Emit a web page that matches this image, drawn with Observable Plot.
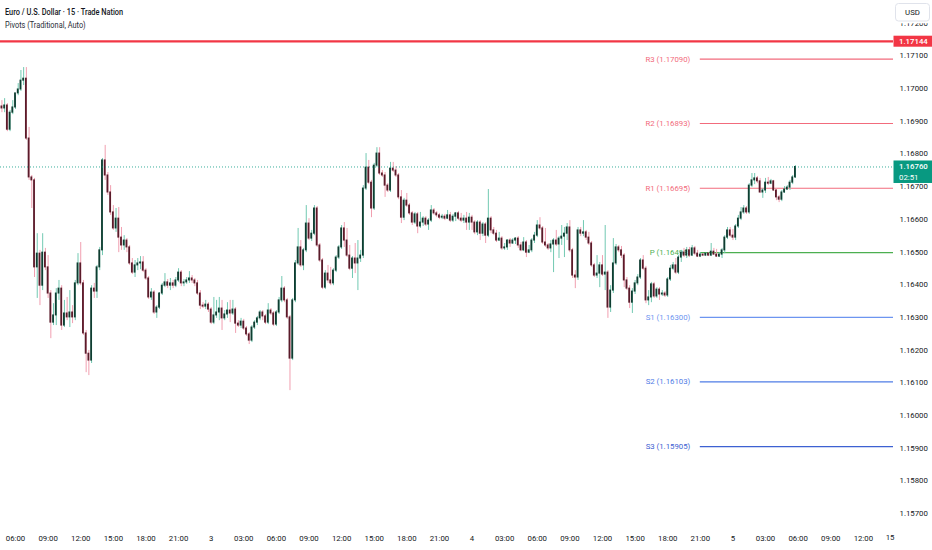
<!DOCTYPE html>
<html><head><meta charset="utf-8">
<script src="https://cdn.jsdelivr.net/npm/d3@7"></script>
<script src="https://cdn.jsdelivr.net/npm/@observablehq/plot@0.6"></script>
<style>
html,body{margin:0;padding:0;background:#fff;}
#wrap{position:relative;width:932px;height:550px;overflow:hidden;font-family:Roboto,"Noto Sans",sans-serif;}
#chart svg{display:block;}
#hdr{position:absolute;left:5px;top:6px;font-size:8.4px;color:#131722;transform:scaleX(0.88);transform-origin:0 0;white-space:nowrap;}
#hdr .t1{font-weight:500;line-height:12.5px;}
#hdr .t2{font-weight:400;line-height:12.5px;color:#2a2e39;}
</style></head>
<body>
<div id="wrap"><div id="chart"></div>
<div id="hdr"><div class="t1">Euro / U.S. Dollar · 15 · Trade Nation</div><div class="t2">Pivots (Traditional, Auto)</div></div>
</div>
<script>
// ---- data: 15-minute EUR/USD candles, first bar 2 Dec 04:45 ----
const firstBar = "2025-12-02T04:45:00Z";
const barMinutes = 15;

const open = [
1.16945,1.16939,1.16948,1.16874,1.16926,1.16942,1.16985,1.16997,1.17024,1.17030,
1.16847,1.16728,1.16719,1.16453,1.16495,1.16397,1.16498,1.16453,1.16373,1.16284,
1.16306,1.16373,1.16388,1.16275,1.16312,1.16300,1.16315,1.16300,1.16404,1.16465,
1.16404,1.16251,1.16189,1.16168,1.16388,1.16379,1.16453,1.16505,1.16780,1.16734,
1.16682,1.16621,1.16572,1.16602,1.16544,1.16520,1.16535,1.16514,1.16465,1.16437,
1.16459,1.16465,1.16468,1.16443,1.16419,1.16361,1.16376,1.16315,1.16330,1.16373,
1.16397,1.16407,1.16397,1.16404,1.16397,1.16413,1.16437,1.16404,1.16407,1.16413,
1.16419,1.16413,1.16404,1.16373,1.16336,1.16333,1.16339,1.16324,1.16284,1.16306,
1.16315,1.16327,1.16297,1.16309,1.16321,1.16312,1.16324,1.16281,1.16275,1.16287,
1.16266,1.16248,1.16229,1.16269,1.16284,1.16297,1.16315,1.16303,1.16284,1.16321,
1.16312,1.16278,1.16315,1.16352,1.16388,1.16352,1.16300,1.16174,1.16352,1.16465,
1.16514,1.16459,1.16505,1.16587,1.16541,1.16556,1.16633,1.16520,1.16474,1.16391,
1.16434,1.16413,1.16404,1.16443,1.16483,1.16514,1.16572,1.16535,1.16489,1.16449,
1.16480,1.16465,1.16480,1.16489,1.16694,1.16758,1.16712,1.16633,1.16764,1.16801,
1.16740,1.16734,1.16703,1.16688,1.16755,1.16749,1.16734,1.16667,1.16605,1.16657,
1.16642,1.16618,1.16590,1.16615,1.16578,1.16590,1.16602,1.16584,1.16596,1.16627,
1.16618,1.16612,1.16605,1.16608,1.16602,1.16612,1.16596,1.16608,1.16618,1.16602,
1.16596,1.16602,1.16590,1.16605,1.16590,1.16560,1.16590,1.16556,1.16584,1.16550,
1.16602,1.16566,1.16556,1.16535,1.16541,1.16511,1.16514,1.16535,1.16526,1.16535,
1.16541,1.16520,1.16505,1.16529,1.16498,1.16505,1.16535,1.16550,1.16581,1.16572,
1.16529,1.16520,1.16511,1.16523,1.16535,1.16523,1.16541,1.16547,1.16556,1.16575,
1.16505,1.16428,1.16422,1.16566,1.16556,1.16560,1.16544,1.16526,1.16459,1.16428,
1.16434,1.16459,1.16431,1.16437,1.16330,1.16382,1.16465,1.16514,1.16505,1.16489,
1.16413,1.16388,1.16345,1.16379,1.16404,1.16422,1.16474,1.16449,1.16352,1.16361,
1.16401,1.16364,1.16385,1.16370,1.16373,1.16367,1.16416,1.16449,1.16459,1.16437,
1.16483,1.16498,1.16489,1.16505,1.16489,1.16511,1.16495,1.16486,1.16492,1.16489,
1.16495,1.16489,1.16501,1.16492,1.16486,1.16492,1.16505,1.16544,1.16566,1.16550,
1.16544,1.16578,1.16602,1.16621,1.16633,1.16621,1.16703,1.16719,1.16725,1.16716,
1.16682,1.16688,1.16712,1.16709,1.16716,1.16688,1.16667,1.16660,1.16682,1.16691,
1.16697,1.16712,1.16728];

const high = [
1.16963,1.16969,1.16954,1.16933,1.16963,1.16978,1.17015,1.17055,1.17064,1.17064,
1.16881,1.16734,1.16725,1.16556,1.16505,1.16556,1.16511,1.16489,1.16382,1.16342,
1.16388,1.16413,1.16397,1.16352,1.16361,1.16382,1.16336,1.16413,1.16495,1.16529,
1.16413,1.16260,1.16199,1.16397,1.16404,1.16459,1.16514,1.16786,1.16826,1.16743,
1.16703,1.16642,1.16633,1.16636,1.16575,1.16550,1.16541,1.16520,1.16480,1.16474,
1.16480,1.16486,1.16486,1.16449,1.16425,1.16388,1.16382,1.16336,1.16376,1.16404,
1.16434,1.16416,1.16419,1.16413,1.16422,1.16449,1.16443,1.16416,1.16422,1.16440,
1.16428,1.16419,1.16413,1.16382,1.16345,1.16352,1.16345,1.16330,1.16361,1.16352,
1.16361,1.16352,1.16321,1.16345,1.16352,1.16352,1.16330,1.16290,1.16297,1.16294,
1.16272,1.16254,1.16275,1.16290,1.16303,1.16321,1.16321,1.16309,1.16342,1.16327,
1.16318,1.16321,1.16361,1.16425,1.16394,1.16358,1.16306,1.16358,1.16474,1.16572,
1.16535,1.16511,1.16642,1.16602,1.16566,1.16642,1.16639,1.16526,1.16480,1.16443,
1.16459,1.16453,1.16449,1.16489,1.16520,1.16581,1.16590,1.16572,1.16520,1.16486,
1.16526,1.16535,1.16505,1.16703,1.16801,1.16780,1.16719,1.16771,1.16819,1.16819,
1.16749,1.16743,1.16709,1.16774,1.16774,1.16761,1.16740,1.16688,1.16664,1.16679,
1.16648,1.16624,1.16621,1.16621,1.16621,1.16608,1.16608,1.16602,1.16642,1.16633,
1.16624,1.16618,1.16615,1.16615,1.16627,1.16621,1.16615,1.16621,1.16624,1.16618,
1.16612,1.16621,1.16618,1.16612,1.16596,1.16596,1.16596,1.16590,1.16590,1.16691,
1.16608,1.16575,1.16566,1.16560,1.16547,1.16526,1.16538,1.16541,1.16541,1.16544,
1.16547,1.16529,1.16544,1.16535,1.16520,1.16541,1.16560,1.16596,1.16605,1.16578,
1.16572,1.16526,1.16535,1.16541,1.16566,1.16547,1.16581,1.16575,1.16587,1.16596,
1.16511,1.16443,1.16575,1.16575,1.16596,1.16566,1.16560,1.16532,1.16465,1.16489,
1.16468,1.16489,1.16581,1.16443,1.16397,1.16541,1.16523,1.16520,1.16517,1.16495,
1.16422,1.16397,1.16388,1.16413,1.16431,1.16480,1.16489,1.16456,1.16382,1.16407,
1.16407,1.16391,1.16391,1.16382,1.16379,1.16422,1.16459,1.16468,1.16480,1.16489,
1.16505,1.16511,1.16514,1.16514,1.16520,1.16517,1.16505,1.16498,1.16495,1.16498,
1.16498,1.16526,1.16511,1.16508,1.16498,1.16511,1.16550,1.16575,1.16575,1.16569,
1.16584,1.16612,1.16636,1.16642,1.16639,1.16709,1.16740,1.16740,1.16731,1.16725,
1.16694,1.16725,1.16728,1.16722,1.16719,1.16694,1.16673,1.16688,1.16700,1.16703,
1.16719,1.16734,1.16764];

const low = [
1.16926,1.16926,1.16868,1.16868,1.16920,1.16936,1.16978,1.16991,1.17009,1.16841,
1.16719,1.16633,1.16422,1.16358,1.16336,1.16382,1.16443,1.16358,1.16235,1.16275,
1.16275,1.16352,1.16260,1.16269,1.16290,1.16269,1.16281,1.16290,1.16397,1.16397,
1.16245,1.16131,1.16122,1.16159,1.16358,1.16358,1.16443,1.16489,1.16719,1.16673,
1.16612,1.16566,1.16560,1.16498,1.16505,1.16505,1.16498,1.16459,1.16431,1.16422,
1.16443,1.16446,1.16437,1.16413,1.16355,1.16352,1.16309,1.16297,1.16324,1.16367,
1.16391,1.16388,1.16382,1.16388,1.16391,1.16407,1.16394,1.16394,1.16401,1.16404,
1.16404,1.16394,1.16367,1.16324,1.16327,1.16324,1.16315,1.16278,1.16278,1.16297,
1.16290,1.16260,1.16290,1.16297,1.16284,1.16306,1.16251,1.16269,1.16266,1.16260,
1.16242,1.16217,1.16223,1.16263,1.16275,1.16290,1.16290,1.16278,1.16278,1.16306,
1.16272,1.16272,1.16309,1.16345,1.16345,1.16294,1.16076,1.16168,1.16345,1.16459,
1.16453,1.16443,1.16498,1.16535,1.16532,1.16550,1.16514,1.16468,1.16385,1.16385,
1.16404,1.16397,1.16397,1.16437,1.16477,1.16508,1.16514,1.16483,1.16443,1.16419,
1.16434,1.16382,1.16468,1.16480,1.16688,1.16706,1.16605,1.16627,1.16758,1.16734,
1.16728,1.16667,1.16682,1.16682,1.16743,1.16728,1.16660,1.16587,1.16596,1.16636,
1.16612,1.16581,1.16584,1.16556,1.16572,1.16578,1.16578,1.16566,1.16590,1.16612,
1.16605,1.16599,1.16599,1.16596,1.16599,1.16590,1.16590,1.16593,1.16596,1.16590,
1.16587,1.16566,1.16566,1.16566,1.16553,1.16550,1.16535,1.16547,1.16526,1.16544,
1.16556,1.16550,1.16529,1.16532,1.16505,1.16505,1.16505,1.16514,1.16523,1.16523,
1.16511,1.16501,1.16501,1.16483,1.16495,1.16498,1.16526,1.16544,1.16566,1.16523,
1.16514,1.16505,1.16498,1.16437,1.16517,1.16480,1.16520,1.16483,1.16535,1.16498,
1.16419,1.16388,1.16413,1.16547,1.16547,1.16535,1.16520,1.16453,1.16422,1.16419,
1.16391,1.16425,1.16382,1.16297,1.16315,1.16373,1.16459,1.16498,1.16480,1.16391,
1.16382,1.16327,1.16312,1.16370,1.16397,1.16416,1.16443,1.16342,1.16336,1.16345,
1.16358,1.16358,1.16352,1.16364,1.16361,1.16361,1.16410,1.16443,1.16431,1.16431,
1.16468,1.16483,1.16480,1.16483,1.16486,1.16489,1.16483,1.16483,1.16486,1.16486,
1.16486,1.16486,1.16489,1.16483,1.16483,1.16480,1.16495,1.16538,1.16544,1.16535,
1.16535,1.16572,1.16596,1.16615,1.16615,1.16615,1.16697,1.16706,1.16709,1.16679,
1.16664,1.16679,1.16703,1.16706,1.16685,1.16657,1.16651,1.16654,1.16679,1.16688,
1.16688,1.16706,1.16725];

const close = [
1.16939,1.16948,1.16874,1.16926,1.16942,1.16985,1.16997,1.17024,1.17030,1.16847,
1.16728,1.16719,1.16453,1.16495,1.16397,1.16498,1.16453,1.16373,1.16284,1.16306,
1.16373,1.16388,1.16275,1.16312,1.16300,1.16315,1.16300,1.16404,1.16465,1.16404,
1.16251,1.16189,1.16168,1.16388,1.16379,1.16453,1.16505,1.16780,1.16734,1.16682,
1.16621,1.16572,1.16602,1.16544,1.16520,1.16535,1.16514,1.16465,1.16437,1.16459,
1.16465,1.16468,1.16443,1.16419,1.16361,1.16376,1.16315,1.16330,1.16373,1.16397,
1.16407,1.16397,1.16404,1.16397,1.16413,1.16437,1.16404,1.16407,1.16413,1.16419,
1.16413,1.16404,1.16373,1.16336,1.16333,1.16339,1.16324,1.16284,1.16306,1.16315,
1.16327,1.16297,1.16309,1.16321,1.16312,1.16324,1.16281,1.16275,1.16287,1.16266,
1.16248,1.16229,1.16269,1.16284,1.16297,1.16315,1.16303,1.16284,1.16321,1.16312,
1.16278,1.16315,1.16352,1.16388,1.16352,1.16300,1.16174,1.16352,1.16465,1.16514,
1.16459,1.16505,1.16587,1.16541,1.16556,1.16633,1.16520,1.16474,1.16391,1.16434,
1.16413,1.16404,1.16443,1.16483,1.16514,1.16572,1.16535,1.16489,1.16449,1.16480,
1.16465,1.16480,1.16489,1.16694,1.16758,1.16712,1.16633,1.16764,1.16801,1.16740,
1.16734,1.16703,1.16688,1.16755,1.16749,1.16734,1.16667,1.16605,1.16657,1.16642,
1.16618,1.16590,1.16615,1.16578,1.16590,1.16602,1.16584,1.16596,1.16627,1.16618,
1.16612,1.16605,1.16608,1.16602,1.16612,1.16596,1.16608,1.16618,1.16602,1.16596,
1.16602,1.16590,1.16605,1.16590,1.16560,1.16590,1.16556,1.16584,1.16550,1.16602,
1.16566,1.16556,1.16535,1.16541,1.16511,1.16514,1.16535,1.16526,1.16535,1.16541,
1.16520,1.16505,1.16529,1.16498,1.16505,1.16535,1.16550,1.16581,1.16572,1.16529,
1.16520,1.16511,1.16523,1.16535,1.16523,1.16541,1.16547,1.16556,1.16575,1.16505,
1.16428,1.16422,1.16566,1.16556,1.16560,1.16544,1.16526,1.16459,1.16428,1.16434,
1.16459,1.16431,1.16437,1.16330,1.16382,1.16465,1.16514,1.16505,1.16489,1.16413,
1.16388,1.16345,1.16379,1.16404,1.16422,1.16474,1.16449,1.16352,1.16361,1.16401,
1.16364,1.16385,1.16370,1.16373,1.16367,1.16416,1.16449,1.16459,1.16437,1.16483,
1.16498,1.16489,1.16505,1.16489,1.16511,1.16495,1.16486,1.16492,1.16489,1.16495,
1.16489,1.16501,1.16492,1.16486,1.16492,1.16505,1.16544,1.16566,1.16550,1.16544,
1.16578,1.16602,1.16621,1.16633,1.16621,1.16703,1.16719,1.16725,1.16716,1.16682,
1.16688,1.16712,1.16709,1.16716,1.16688,1.16667,1.16660,1.16682,1.16691,1.16697,
1.16712,1.16728,1.16760];

// pivots (Traditional, daily) from session start 4 Dec 21:00
const pivotNames  = ["R3","R2","R1","P","S1","S2","S3"];
const pivotValues = [1.17090,1.16893,1.16695,1.16498,1.16300,1.16103,1.15905];
const pivotColors = ["#f26b7c","#f26b7c","#f26b7c","#4caf50","#6d95f0","#4f7ce6","#3d61d2"];
const pivotStart = "2025-12-04T21:00:00Z";

const highLevel = 1.17144;     // red horizontal line
const lastPrice = 1.16760;
const countdown = "02:51";
const currency = "USD";

const yTicks = [1.157,1.158,1.159,1.160,1.161,1.162,1.163,1.164,1.165,1.166,1.167,1.168,1.169,1.170,1.171,1.172];
const xTickTimes = [
"2025-12-02T06:00:00Z","2025-12-02T09:00:00Z","2025-12-02T12:00:00Z","2025-12-02T15:00:00Z","2025-12-02T18:00:00Z","2025-12-02T21:00:00Z",
"2025-12-03T00:00:00Z","2025-12-03T03:00:00Z","2025-12-03T06:00:00Z","2025-12-03T09:00:00Z","2025-12-03T12:00:00Z","2025-12-03T15:00:00Z","2025-12-03T18:00:00Z","2025-12-03T21:00:00Z",
"2025-12-04T00:00:00Z","2025-12-04T03:00:00Z","2025-12-04T06:00:00Z","2025-12-04T09:00:00Z","2025-12-04T12:00:00Z","2025-12-04T15:00:00Z","2025-12-04T18:00:00Z","2025-12-04T21:00:00Z",
"2025-12-05T00:00:00Z","2025-12-05T03:00:00Z","2025-12-05T06:00:00Z","2025-12-05T09:00:00Z","2025-12-05T12:00:00Z","2025-12-05T15:00:00Z"];
const xTickLabels = [
"06:00","09:00","12:00","15:00","18:00","21:00",
"3","03:00","06:00","09:00","12:00","15:00","18:00","21:00",
"4","03:00","06:00","09:00","12:00","15:00","18:00","21:00",
"5","03:00","06:00","09:00","12:00","15"];

const xDomain = ["2025-12-02T04:37:12Z","2025-12-05T14:46:20Z"];
const yDomain = [1.156728, 1.172691];

// ---- build ----
const t0 = new Date(firstBar).getTime();
const bars = close.map((c, i) => ({
  t: new Date(t0 + i * barMinutes * 60000),
  o: open[i], h: high[i], l: low[i], c
}));
const halfBody = 5 * 60000;
const upBody = "#0f3d31", dnBody = "#5a1b2a", upWick = "#72c9b2", dnWick = "#f19fb0";

const pivots = pivotNames.map((n, i) => ({name: n, value: pivotValues[i], color: pivotColors[i], start: new Date(pivotStart)}));
const tickDates = xTickTimes.slice(0, -1).map(s => new Date(s));
const tickLabelMap = new Map(xTickTimes.slice(0, -1).map((s, i) => [new Date(s).getTime(), xTickLabels[i]]));
const xEnd = new Date(xDomain[1]);

const priceBoxes = (index, scales, values, dim) => {
  const g = d3.create("svg:g").attr("text-anchor", "start");
  const x0 = dim.width - dim.marginRight + 0.5;
  const w = dim.marginRight;
  // red high level label
  const yr = scales.y(highLevel);
  g.append("rect").attr("x", x0).attr("y", yr - 5.2).attr("width", w).attr("height", 11).attr("fill", "#f23645");
  g.append("text").attr("x", x0 + 5.5).attr("y", yr + 0.3).attr("dy", "0.35em").attr("fill", "#fff").attr("text-anchor", "start")
    .attr("font-size", 7.8).attr("font-weight", 500).text(highLevel.toFixed(5));
  // last price + countdown
  const yl = scales.y(lastPrice);
  g.append("rect").attr("x", x0).attr("y", yl - 6).attr("width", w).attr("height", 22.5).attr("fill", "#089981");
  g.append("text").attr("x", x0 + 5.5).attr("y", yl).attr("dy", "0.35em").attr("fill", "#fff").attr("text-anchor", "start")
    .attr("font-size", 7.8).attr("font-weight", 500).text(lastPrice.toFixed(5));
  g.append("text").attr("x", x0 + 5.5).attr("y", yl + 10.5).attr("dy", "0.35em").attr("fill", "#fff").attr("text-anchor", "start")
    .attr("font-size", 7.8).text(countdown);
  // currency button (covers the top of the highest price label)
  g.append("rect").attr("x", x0 + 1).attr("y", 0).attr("width", w - 1).attr("height", 23.3).attr("fill", "#fff");
  g.append("rect").attr("x", x0 + 2).attr("y", 3.5).attr("width", w - 5).attr("height", 17.5).attr("rx", 3)
    .attr("fill", "#fff").attr("stroke", "#e0e3eb");
  g.append("text").attr("x", x0 + 2 + (w - 5) / 2).attr("y", 12.5).attr("dy", "0.35em").attr("text-anchor", "middle")
    .attr("fill", "#131722").attr("font-size", 7.8).text(currency);
  return g.node();
};

const chart = Plot.plot({
  width: 932, height: 550,
  marginLeft: 0, marginRight: 39, marginTop: 0, marginBottom: 28,
  style: {fontFamily: "Roboto, 'Noto Sans', sans-serif", fontSize: "7.8px", color: "#131722", background: "#ffffff", overflow: "hidden"},
  x: {type: "utc", domain: xDomain.map(s => new Date(s))},
  y: {domain: yDomain},
  color: {type: "identity"},
  marks: [
    Plot.ruleY(pivots, {y: "value", x1: "start", x2: () => xEnd, stroke: "color", strokeWidth: 1.2}),
    Plot.text(pivots, {x: "start", y: "value", text: d => `${d.name} (${d.value.toFixed(5)})`, fill: "color", textAnchor: "end", dx: -10, fontSize: 7.8}),
    Plot.ruleY([highLevel], {stroke: "#f23645", strokeWidth: 2.2}),
    Plot.ruleX(bars, {x: "t", y1: "l", y2: "h", stroke: d => d.c >= d.o ? upWick : dnWick, strokeWidth: 1}),
    Plot.rect(bars, {
      x1: d => new Date(+d.t - halfBody), x2: d => new Date(+d.t + halfBody),
      y1: "o", y2: "c", fill: d => d.c >= d.o ? upBody : dnBody, insetTop: -0.5, insetBottom: -0.5
    }),
    Plot.ruleY([lastPrice], {stroke: "#089981", strokeWidth: 0.8, strokeDasharray: "1,2"}),
    Plot.axisY({anchor: "right", ticks: yTicks, tickFormat: d => d.toFixed(5), tickSize: 0, tickPadding: 6, label: null, fill: "#131722"}),
    Plot.axisX({ticks: tickDates, tickFormat: d => tickLabelMap.get(+d) ?? "", tickSize: 0, tickPadding: 13, label: null, fill: "#131722"}),
    Plot.text([xTickLabels[xTickLabels.length - 1]], {frameAnchor: "bottom-right", textAnchor: "end", dy: 17, dx: 1, fill: "#131722"}),
    priceBoxes
  ]
});
document.getElementById("chart").appendChild(chart);
</script>
</body></html>
